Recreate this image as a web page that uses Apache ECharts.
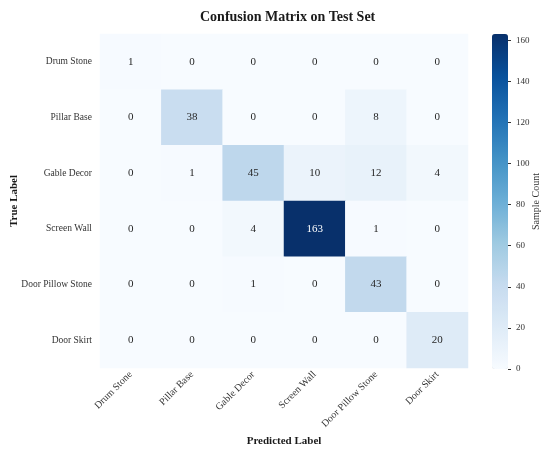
<!DOCTYPE html>
<html>
<head>
<meta charset="utf-8">
<script src="https://cdn.jsdelivr.net/npm/echarts@6/dist/echarts.min.js"></script>
<style>
  html, body { margin: 0; padding: 0; background: #fff; }
  #chart { width: 550px; height: 455px; }
</style>
</head>
<body>
<div id="chart"></div>
<script>
// categories (same order for true and predicted)
var classes = ["Drum Stone", "Pillar Base", "Gable Decor", "Screen Wall", "Door Pillow Stone", "Door Skirt"];

// confusion matrix rows = true label
var rowDrumStone   = [1, 0, 0, 0, 0, 0];
var rowPillarBase  = [0, 38, 0, 0, 8, 0];
var rowGableDecor  = [0, 1, 45, 10, 12, 4];
var rowScreenWall  = [0, 0, 4, 163, 1, 0];
var rowDoorPillow  = [0, 0, 1, 0, 43, 0];
var rowDoorSkirt   = [0, 0, 0, 0, 0, 20];
var matrixRows = [rowDrumStone, rowPillarBase, rowGableDecor, rowScreenWall, rowDoorPillow, rowDoorSkirt];

// colorbar
var cbMin = 0;
var cbMax = 163;
var cbTicks = [0, 20, 40, 60, 80, 100, 120, 140, 160];

// matplotlib Blues
var blues = ["#f7fbff", "#deebf7", "#c6dbef", "#9ecae1", "#6baed6", "#4292c6", "#2171b5", "#08519c", "#08306b"];

var serif = "'Liberation Serif', 'DejaVu Serif', serif";

var cells = [];
for (var r = 0; r < matrixRows.length; r++) {
  for (var c = 0; c < matrixRows[r].length; c++) {
    var v = matrixRows[r][c];
    cells.push({
      value: [c, r, v],
      label: { color: v > cbMax * 0.6 ? "#ffffff" : "#262626" }
    });
  }
}

var chart = echarts.init(document.getElementById("chart"), null, { renderer: "canvas" });

var option = {
  animation: false,
  backgroundColor: "#ffffff",
  title: {
    text: "Confusion Matrix on Test Set",
    left: 195,
    top: 5,
    textStyle: { fontFamily: serif, fontSize: 14, fontWeight: "bold", color: "#1a1a1a" }
  },
  grid: [
    { left: 100, top: 34, width: 368, height: 334, outerBoundsMode: "none", containLabel: false },
    { left: 492, top: 34, width: 16, height: 335, outerBoundsMode: "none", containLabel: false }
  ],
  xAxis: [
    {
      type: "category",
      gridIndex: 0,
      data: classes,
      position: "bottom",
      splitArea: { show: false },
      axisLine: { show: false },
      axisTick: { show: false },
      axisLabel: {
        interval: 0,
        rotate: 45,
        margin: 5,
        fontFamily: serif,
        fontSize: 10,
        color: "#333333"
      },
      name: "Predicted Label",
      nameLocation: "middle",
      nameGap: 68,
      nameMoveOverlap: false,
      nameTextStyle: { fontFamily: serif, fontSize: 11, fontWeight: "bold", color: "#1a1a1a" }
    },
    {
      type: "value",
      gridIndex: 1,
      show: false
    }
  ],
  yAxis: [
    {
      type: "category",
      gridIndex: 0,
      data: classes,
      inverse: true,
      splitArea: { show: false },
      axisLine: { show: false },
      axisTick: { show: false },
      axisLabel: {
        margin: 8,
        fontFamily: serif,
        fontSize: 9.5,
        color: "#333333"
      },
      name: "True Label",
      nameLocation: "middle",
      nameGap: 80,
      nameRotate: 90,
      nameMoveOverlap: false,
      nameTextStyle: { fontFamily: serif, fontSize: 11, fontWeight: "bold", color: "#1a1a1a" }
    },
    {
      type: "value",
      gridIndex: 1,
      position: "right",
      z: 10,
      min: cbMin,
      max: cbMax,
      splitLine: { show: false },
      axisLine: { show: false, onZero: false },
      axisTick: {
        show: true,
        inside: false,
        length: 3,
        lineStyle: { color: "#333333", width: 1 },
        customValues: cbTicks
      },
      axisLabel: {
        margin: 8,
        fontFamily: serif,
        fontSize: 9,
        color: "#333333",
        customValues: cbTicks
      },
      name: "Sample Count",
      nameLocation: "middle",
      nameGap: 23,
      nameRotate: 90,
      nameMoveOverlap: false,
      nameTextStyle: { fontFamily: serif, fontSize: 10, color: "#333333" }
    }
  ],
  visualMap: {
    type: "continuous",
    seriesIndex: 0,
    min: cbMin,
    max: cbMax,
    calculable: false,
    orient: "vertical",
    left: 492,
    top: 34,
    padding: 0,
    itemWidth: 16,
    itemHeight: 335,
    text: null,
    showLabel: false,
    hoverLink: false,
    z: 1,
    inRange: { color: blues }
  },
  series: [
    {
      type: "heatmap",
      xAxisIndex: 0,
      yAxisIndex: 0,
      data: cells,
      label: {
        show: true,
        fontFamily: serif,
        fontSize: 11
      },
      itemStyle: { borderWidth: 0 },
      emphasis: { disabled: true }
    }
  ]
};

chart.setOption(option);
</script>
</body>
</html>
